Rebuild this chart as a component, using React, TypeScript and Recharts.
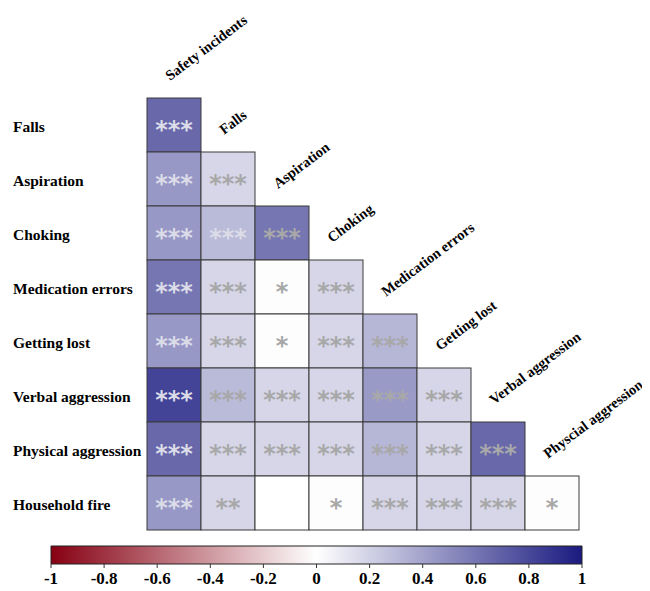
import React from 'react';
import { ScatterChart, Scatter, XAxis, YAxis, ComposedChart, Bar } from 'recharts';

const rowLabels = [
  'Falls',
  'Aspiration',
  'Choking',
  'Medication errors',
  'Getting lost',
  'Verbal aggression',
  'Physical aggression',
  'Household fire',
];
const colLabels = [
  'Safety incidents',
  'Falls',
  'Aspiration',
  'Choking',
  'Medication errors',
  'Getting lost',
  'Verbal aggression',
  'Physcial aggression',
];

const rFalls = [0.66];
const rAspiration = [0.45, 0.18];
const rChoking = [0.45, 0.3, 0.6];
const rMedication = [0.6, 0.18, 0.01, 0.18];
const rGettingLost = [0.45, 0.18, 0.01, 0.18, 0.32];
const rVerbal = [0.82, 0.3, 0.18, 0.18, 0.44, 0.18];
const rPhysical = [0.66, 0.18, 0.18, 0.18, 0.32, 0.18, 0.66];
const rHousehold = [0.45, 0.18, 0.0, 0.01, 0.18, 0.18, 0.18, 0.01];

const sFalls = ['***'];
const sAspiration = ['***', '***'];
const sChoking = ['***', '***', '***'];
const sMedication = ['***', '***', '*', '***'];
const sGettingLost = ['***', '***', '*', '***', '***'];
const sVerbal = ['***', '***', '***', '***', '***', '***'];
const sPhysical = ['***', '***', '***', '***', '***', '***', '***'];
const sHousehold = ['***', '**', '', '*', '***', '***', '***', '*'];

const colorbarTicks = [-1, -0.8, -0.6, -0.4, -0.2, 0, 0.2, 0.4, 0.6, 0.8, 1];
const colorbarRange = [{ name: 'r', range: [-1, 1] }];

const corrRows = [rFalls, rAspiration, rChoking, rMedication, rGettingLost, rVerbal, rPhysical, rHousehold];
const sigRows = [sFalls, sAspiration, sChoking, sMedication, sGettingLost, sVerbal, sPhysical, sHousehold];

const BLUE = [26, 26, 128];
const RED = [134, 0, 18];
const WHITE = [255, 255, 255];

function corrColor(v: number): string {
  const end = v >= 0 ? BLUE : RED;
  const t = Math.min(1, Math.abs(v));
  const c = WHITE.map((w, k) => Math.round(w + (end[k] - w) * t));
  return `rgb(${c[0]},${c[1]},${c[2]})`;
}

const cellData = corrRows.flatMap((vals, i) =>
  vals.map((v, j) => ({
    x: j + 0.5,
    y: i + 0.5,
    value: v,
    sig: sigRows[i][j],
    light: j === 0 || (i === 2 && j === 1),
  }))
);

const labelData = colLabels.map((name, j) => ({ x: j + 0.5, y: j - 0.5, name }));

const CELL = 54;
const SERIF = '"Liberation Serif", "Times New Roman", serif';

const CellShape = (props: any) => {
  const { cx, cy, payload } = props;
  if (cx == null || cy == null) return null;
  return (
    <g>
      <rect
        x={cx - CELL / 2}
        y={cy - CELL / 2}
        width={CELL}
        height={CELL}
        fill={corrColor(payload.value)}
        stroke="#3a3a3a"
        strokeWidth={1}
      />
      {payload.sig ? (
        <text
          x={cx}
          y={cy + 13}
          textAnchor="middle"
          fontFamily='"DejaVu Sans", sans-serif'
          fontWeight="bold"
          fontSize={24}
          fill={payload.light ? '#dcdce8' : '#a8a8a8'}
        >
          {payload.sig}
        </text>
      ) : null}
    </g>
  );
};

const ColLabelShape = (props: any) => {
  const { cx, cy, payload } = props;
  if (cx == null || cy == null) return null;
  const x = cx - 4;
  const y = cy + 10;
  return (
    <text
      x={x}
      y={y}
      transform={`rotate(-37 ${x} ${y})`}
      fontFamily={SERIF}
      fontWeight="bold"
      fontSize={14.5}
      fill="#000"
    >
      {payload.name}
    </text>
  );
};

const RowTick = (props: any) => {
  const { y, payload } = props;
  const idx = Math.floor(payload.value);
  return (
    <text x={5} y={y + 7} fontFamily={SERIF} fontWeight="bold" fontSize={15.5} fill="#000">
      {rowLabels[idx]}
    </text>
  );
};

export default function App() {
  return (
    <div style={{ width: 642 }}>
      <ScatterChart width={642} height={532} margin={{ top: 36, right: 71, bottom: 10, left: 0 }}>
        <XAxis type="number" dataKey="x" domain={[0, 8]} hide />
        <YAxis
          type="number"
          dataKey="y"
          domain={[-1, 8]}
          reversed
          ticks={[0.5, 1.5, 2.5, 3.5, 4.5, 5.5, 6.5, 7.5]}
          width={139}
          axisLine={false}
          tickLine={false}
          tick={<RowTick />}
          interval={0}
        />
        <Scatter data={cellData} shape={<CellShape />} isAnimationActive={false} />
        <Scatter data={labelData} shape={<ColLabelShape />} isAnimationActive={false} />
      </ScatterChart>
      <ComposedChart
        width={642}
        height={51}
        layout="vertical"
        data={colorbarRange}
        barCategoryGap={0}
        margin={{ top: 6, right: 68, bottom: 0, left: 43 }}
      >
        <defs>
          <linearGradient id="corrGrad" x1="0" y1="0" x2="1" y2="0">
            <stop offset="0%" stopColor={corrColor(-1)} />
            <stop offset="50%" stopColor={corrColor(0)} />
            <stop offset="100%" stopColor={corrColor(1)} />
          </linearGradient>
        </defs>
        <XAxis
          type="number"
          domain={[-1, 1]}
          ticks={colorbarTicks}
          interval={0}
          height={27}
          axisLine={false}
          tickSize={4}
          tickMargin={4}
          tickLine={{ stroke: '#333' }}
          tick={{ fontFamily: SERIF, fontWeight: 'bold', fontSize: 17, fill: '#000' }}
          tickFormatter={(v: number) => String(v)}
        />
        <YAxis type="category" dataKey="name" hide />
        <Bar
          dataKey="range"
          fill="url(#corrGrad)"
          stroke="#222"
          strokeWidth={1}
          isAnimationActive={false}
        />
      </ComposedChart>
    </div>
  );
}
